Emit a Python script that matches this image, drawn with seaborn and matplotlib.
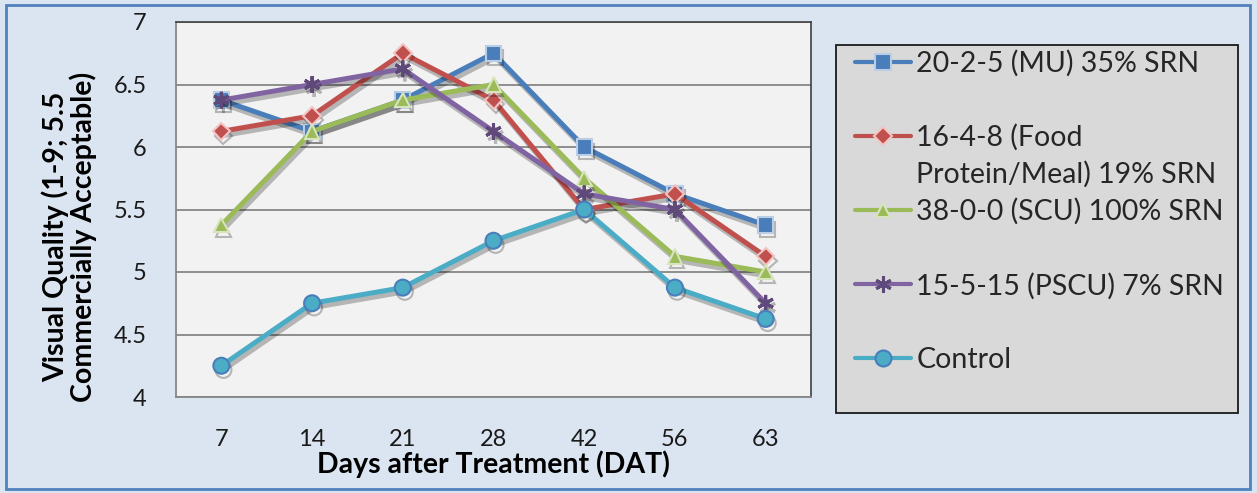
import numpy as np
import pandas as pd
import seaborn as sns
import matplotlib
matplotlib.use("Agg")
import matplotlib.pyplot as plt
import matplotlib.patheffects as pe
from matplotlib.patches import Rectangle

days = ["7", "14", "21", "28", "42", "56", "63"]
series_names = [
    "20-2-5 (MU) 35% SRN",
    "16-4-8 (Food\nProtein/Meal) 19% SRN",
    "38-0-0 (SCU) 100% SRN",
    "15-5-15 (PSCU) 7% SRN",
    "Control",
]
mu = [6.375, 6.125, 6.375, 6.75, 6.0, 5.625, 5.375]
food = [6.125, 6.25, 6.75, 6.375, 5.5, 5.625, 5.125]
scu = [5.375, 6.125, 6.375, 6.5, 5.75, 5.125, 5.0]
pscu = [6.375, 6.5, 6.625, 6.125, 5.625, 5.5, 4.75]
control = [4.25, 4.75, 4.875, 5.25, 5.5, 4.875, 4.625]
y_ticks = [4, 4.5, 5, 5.5, 6, 6.5, 7]
y_tick_labels = ["4", "4.5", "5", "5.5", "6", "6.5", "7"]

values = [mu, food, scu, pscu, control]
colors = ["#4a7ebb", "#c0504d", "#9bbb59", "#8064a2", "#4bacc6"]
edges = ["#b9cde5", "#f2c4c3", "#d7e4bd", "#5f497a", "#4a7ebb"]
markers = ["s", "D", "^", (6, 2, 0), "o"]
msizes = [11, 9, 10.5, 12, 11.5]
mews = [1.5, 1.5, 1.5, 2.2, 1.5]

sns.set_theme(style="white")
plt.rcParams["font.family"] = ["Lato", "DejaVu Sans"]

W, H = 1257, 493
fig = plt.figure(figsize=(W / 100, H / 100), dpi=100)
fig.patch.set_facecolor("#dbe5f1")
fig.patches.append(Rectangle((6 / W, 4 / H), 1244 / W, 484 / H,
                             transform=fig.transFigure, fill=False,
                             edgecolor="#4f81bd", linewidth=2, zorder=0))

ax = fig.add_axes([176 / W, 1 - 397 / H, 635 / W, 375 / H])
ax.set_facecolor("#f2f2f2")

handles = []
for name, vals, c, ec, m, ms, mew in zip(series_names, values, colors, edges, markers, msizes, mews):
    df = pd.DataFrame({"day": days, "val": vals})
    sns.lineplot(data=df, x="day", y="val", ax=ax, color=c, linewidth=3.6,
                 marker=m, markersize=ms, markeredgecolor=ec, markeredgewidth=mew,
                 sort=False, zorder=3)
    ln = ax.lines[-1]
    ln.set_path_effects([pe.SimpleLineShadow(offset=(1.5, -3), shadow_color="black", alpha=0.25),
                         pe.Normal()])
    handles.append(ln)

if ax.get_legend() is not None:
    ax.get_legend().remove()

ax.set_xlim(-0.5, len(days) - 0.5)
ax.set_ylim(4, 7)
ax.set_yticks(y_ticks)
ax.set_yticklabels(y_tick_labels)
ax.set_xticks(range(len(days)))
ax.set_xticklabels(days)
ax.set_xticks(np.arange(-0.5, len(days), 1.0), minor=True)
ax.tick_params(axis="x", which="major", length=0, pad=23, labelsize=17, colors="#1a1a1a")
ax.tick_params(axis="x", which="minor", length=7, width=1.2, color="#868686", direction="out")
ax.tick_params(axis="y", which="major", length=7, width=1.2, color="#868686", direction="out",
               pad=14, labelsize=17, labelcolor="#1a1a1a")
ax.grid(axis="y", color="#868686", linewidth=1.3)
ax.grid(axis="x", visible=False)
ax.set_axisbelow(True)
for s in ["top", "right"]:
    ax.spines[s].set_color("#404040")
    ax.spines[s].set_linewidth(1.2)
for s in ["left", "bottom"]:
    ax.spines[s].set_color("#868686")
    ax.spines[s].set_linewidth(1.3)

ax.set_xlabel("Days after Treatment (DAT)", fontsize=20.5, fontweight="bold", labelpad=0, color="black")
ax.set_ylabel("Visual Quality (1-9; 5.5\nCommercially Acceptable)", fontsize=20.5,
              fontweight="bold", color="black", linespacing=1.0)
ax.yaxis.set_label_coords((97 - 176) / 635, (397 - 237) / 375)

# legend frame
fig.patches.append(Rectangle((836 / W, 1 - 413 / H), 402 / W, 368 / H,
                             transform=fig.transFigure, facecolor="#d9d9d9",
                             edgecolor="#1a1a1a", linewidth=1.3, zorder=1))

first_lines = [n.split("\n")[0] for n in series_names]
leg = fig.legend(handles=handles, labels=first_lines, loc="upper left",
                 bbox_to_anchor=(855 / W, 1 - 50 / H), bbox_transform=fig.transFigure,
                 frameon=False, fontsize=20.5, handlelength=1.95, handletextpad=0.2,
                 labelspacing=1.66, borderpad=0, borderaxespad=0)
leg.set_zorder(2)
for h in leg.legend_handles:
    h.set_path_effects([])
    h.set_linewidth(3)

fig.canvas.draw()
renderer = fig.canvas.get_renderer()
for txt, full in zip(leg.get_texts(), series_names):
    parts = full.split("\n")
    if len(parts) > 1:
        bb = txt.get_window_extent(renderer)
        for k, extra in enumerate(parts[1:], start=1):
            fig.text(bb.x0 / W, (bb.y0 - 37 * k) / H, extra, fontsize=20.5,
                     ha="left", va="bottom", color=txt.get_color(), zorder=3)

fig.savefig("out.png", dpi=100, facecolor=fig.get_facecolor())
